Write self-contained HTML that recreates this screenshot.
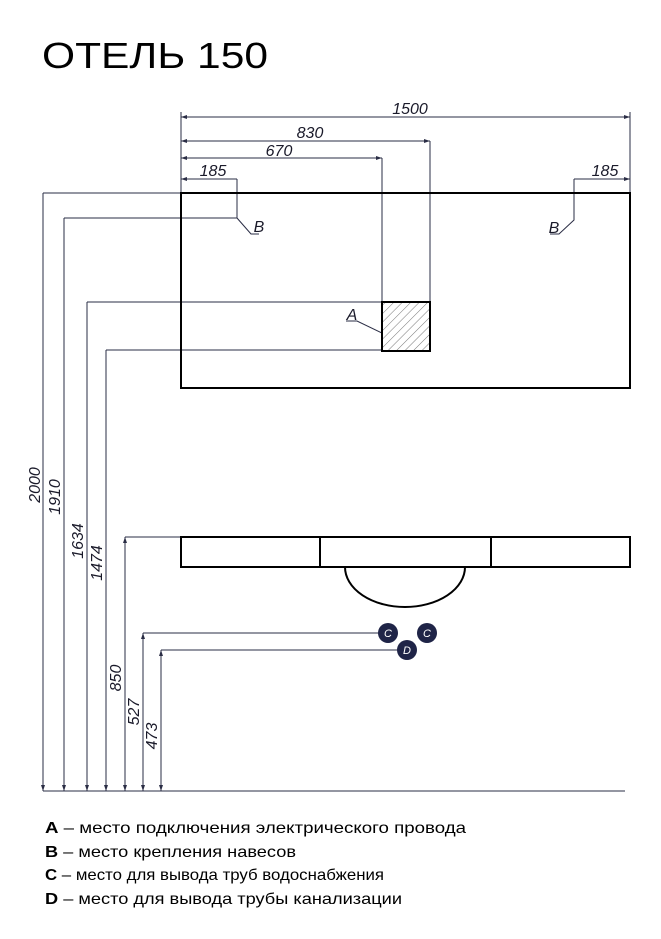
<!DOCTYPE html>
<html><head><meta charset="utf-8"><style>html,body{margin:0;padding:0;background:#fff}svg{display:block}</style></head>
<body>
<svg width="661" height="939" viewBox="0 0 661 939" xmlns="http://www.w3.org/2000/svg" font-family="Liberation Sans, sans-serif">
<defs>
<pattern id="h" width="6" height="6" patternUnits="userSpaceOnUse" patternTransform="rotate(45)"><line x1="0" y1="0" x2="0" y2="6" stroke="#555" stroke-width="0.8"/></pattern>
</defs>
<text x="42" y="68" font-size="36" textLength="226" lengthAdjust="spacingAndGlyphs">ОТЕЛЬ 150</text>
<g stroke="#2a2d45" stroke-width="1" fill="none">
<line x1="181" y1="117" x2="630" y2="117"/>
<line x1="181" y1="112" x2="181" y2="193"/>
<line x1="630" y1="112" x2="630" y2="193"/>
<line x1="181" y1="141" x2="430" y2="141"/>
<line x1="430" y1="141" x2="430" y2="302"/>
<line x1="181" y1="158" x2="382" y2="158"/>
<line x1="382" y1="158" x2="382" y2="302"/>
<line x1="181" y1="179" x2="237" y2="179"/>
<polyline points="237,179 237,218 251,234 259,234"/>
<line x1="574" y1="179" x2="630" y2="179"/>
<polyline points="574,179 574,220 559,234 550,234"/>
<polyline points="346,321 357,321 382,333"/>
<line x1="43" y1="193" x2="43" y2="791"/>
<line x1="43" y1="193" x2="181" y2="193"/>
<line x1="64" y1="218" x2="64" y2="791"/>
<line x1="64" y1="218" x2="237" y2="218"/>
<line x1="87" y1="302" x2="87" y2="791"/>
<line x1="87" y1="302" x2="382" y2="302"/>
<line x1="106" y1="350" x2="106" y2="791"/>
<line x1="106" y1="350" x2="382" y2="350"/>
<line x1="125" y1="537" x2="125" y2="791"/>
<line x1="125" y1="537" x2="181" y2="537"/>
<line x1="143" y1="633" x2="143" y2="791"/>
<line x1="143" y1="633" x2="380" y2="633"/>
<line x1="161" y1="650" x2="161" y2="791"/>
<line x1="161" y1="650" x2="400" y2="650"/>
<line x1="43" y1="791" x2="625" y2="791"/>
</g>
<g fill="#2a2d45">
<path d="M181 117l6-2v4zM630 117l-6-2v4zM181 141l6-2v4zM430 141l-6-2v4zM181 158l6-2v4zM382 158l-6-2v4zM181 179l6-2v4zM630 179l-6-2v4z"/>
<path d="M43 791l-2-6h4zM64 791l-2-6h4zM87 791l-2-6h4zM106 791l-2-6h4zM125 791l-2-6h4zM143 791l-2-6h4zM161 791l-2-6h4z"/>
<path d="M125 537l-2 6h4zM143 633l-2 6h4zM161 650l-2 6h4z"/>
</g>
<g stroke="#000" stroke-width="2" fill="none">
<rect x="181" y="193" width="449" height="195"/>
<rect x="382" y="302" width="48" height="49" fill="url(#h)"/>
<rect x="181" y="537" width="449" height="30"/>
<line x1="320" y1="537" x2="320" y2="567"/>
<line x1="491" y1="537" x2="491" y2="567"/>
<path d="M345 567 A60 40 0 0 0 465 567"/>
</g>
<g fill="#1f2447"><circle cx="388" cy="633" r="10"/><circle cx="427" cy="633" r="10"/><circle cx="407" cy="650" r="10"/></g>
<g fill="#fff" font-size="11" font-style="italic" text-anchor="middle"><text x="388" y="637">C</text><text x="427" y="637">C</text><text x="407" y="654">D</text></g>
<g fill="#1a1a2a" font-size="16" font-style="italic" text-anchor="middle">
<text x="410" y="114">1500</text>
<text x="310" y="138">830</text>
<text x="279" y="156">670</text>
<text x="213" y="176">185</text>
<text x="605" y="176">185</text>
<text x="259" y="232">B</text>
<text x="554" y="233">B</text>
<text x="352" y="320">A</text>
<text transform="translate(40,485) rotate(-90)">2000</text>
<text transform="translate(60,497) rotate(-90)">1910</text>
<text transform="translate(83,541) rotate(-90)">1634</text>
<text transform="translate(102,563) rotate(-90)">1474</text>
<text transform="translate(121,678) rotate(-90)">850</text>
<text transform="translate(139,712) rotate(-90)">527</text>
<text transform="translate(157,736) rotate(-90)">473</text>
</g>
<g font-size="16" fill="#000">
<text x="45" y="833" textLength="421" lengthAdjust="spacingAndGlyphs"><tspan font-weight="bold">A</tspan> – место подключения электрического провода</text>
<text x="45" y="857" textLength="251" lengthAdjust="spacingAndGlyphs"><tspan font-weight="bold">B</tspan> – место крепления навесов</text>
<text x="45" y="880" textLength="339" lengthAdjust="spacingAndGlyphs"><tspan font-weight="bold">C</tspan> – место для вывода труб водоснабжения</text>
<text x="45" y="904" textLength="357" lengthAdjust="spacingAndGlyphs"><tspan font-weight="bold">D</tspan> – место для вывода трубы канализации</text>
</g>
</svg>
</body></html>
